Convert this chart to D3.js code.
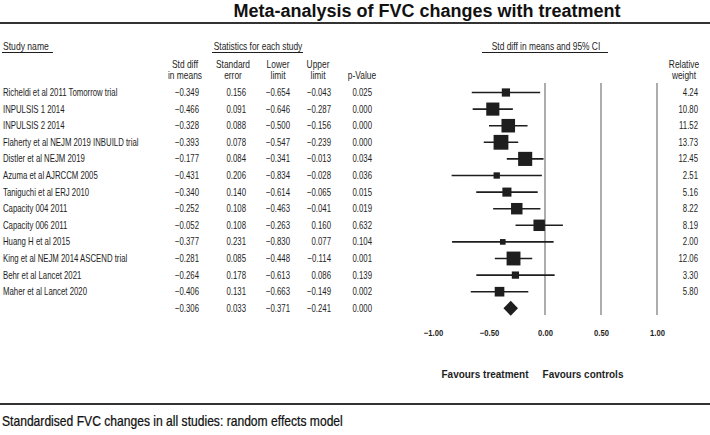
<!DOCTYPE html>
<html>
<head>
<meta charset="utf-8">
<script src="https://cdn.jsdelivr.net/npm/d3@7"></script>
<style>
  html, body { margin: 0; padding: 0; background: #fff; }
  svg { display: block; font-family: "Liberation Sans", Arial, sans-serif; }
</style>
</head>
<body>
<svg id="chart" width="710" height="435"></svg>
<script>
// ---- data ----
const studies = [
  "Richeldi et al 2011 Tomorrow trial",
  "INPULSIS 1 2014",
  "INPULSIS 2 2014",
  "Flaherty et al NEJM 2019 INBUILD trial",
  "Distler et al NEJM 2019",
  "Azuma et al AJRCCM 2005",
  "Taniguchi et al ERJ 2010",
  "Capacity 004 2011",
  "Capacity 006 2011",
  "Huang H et al 2015",
  "King et al NEJM 2014 ASCEND trial",
  "Behr et al Lancet 2021",
  "Maher et al Lancet 2020"
];
const stdDiff = [-0.349, -0.466, -0.328, -0.393, -0.177, -0.431, -0.340, -0.252, -0.052, -0.377, -0.281, -0.264, -0.406];
const stdErr  = [0.156, 0.091, 0.088, 0.078, 0.084, 0.206, 0.140, 0.108, 0.108, 0.231, 0.085, 0.178, 0.131];
const lowerLimit = [-0.654, -0.646, -0.500, -0.547, -0.341, -0.834, -0.614, -0.463, -0.263, -0.830, -0.448, -0.613, -0.663];
const upperLimit = [-0.043, -0.287, -0.156, -0.239, -0.013, -0.028, -0.065, -0.041, 0.160, 0.077, -0.114, 0.086, -0.149];
const pValue = ["0.025", "0.000", "0.000", "0.000", "0.034", "0.036", "0.015", "0.019", "0.632", "0.104", "0.001", "0.139", "0.002"];
const relWeight = [4.24, 10.80, 11.52, 13.73, 12.45, 2.51, 5.16, 8.22, 8.19, 2.00, 12.06, 3.30, 5.80];
const summaryStdDiff = -0.306, summaryStdErr = 0.033, summaryLower = -0.371, summaryUpper = -0.241, summaryP = "0.000";
const axisTicks = [-1.0, -0.5, 0.0, 0.5, 1.0];
const refLines = [0.0, 0.5, 1.0];

// ---- layout ----
const svg = d3.select("#chart");
const ink = "#1e1e1e";
const x = d3.scaleLinear().domain([-1, 1]).range([433, 657]);
const rowY = d3.scaleLinear().domain([0, 1]).range([92.5, 109.1]); // row index -> center y
const sizeScale = d3.scaleSqrt().domain([0, 13.73]).range([0, 14.8]);

const fmt3 = d3.format(".3f");
const fmt2 = d3.format(".2f");

// text helper: horizontally condensed text
function txt(xp, yp, s, anchor, opts = {}) {
  const sx = opts.sx || 0.78;
  return svg.append("text")
    .attr("transform", `translate(${xp},${yp}) scale(${sx},1)`)
    .attr("text-anchor", anchor || "start")
    .attr("font-size", opts.size || 10)
    .attr("font-weight", opts.weight || "normal")
    .attr("fill", opts.fill || ink)
    .text(s);
}

// Title
svg.append("text").attr("x", 427).attr("y", 17).attr("text-anchor", "middle")
  .attr("font-size", 18).attr("font-weight", "bold").attr("fill", "#111")
  .text("Meta-analysis of FVC changes with treatment");
svg.append("rect").attr("x", 0).attr("y", 22).attr("width", 710).attr("height", 2).attr("fill", "#333");

// bottom rule + caption
svg.append("rect").attr("x", 0).attr("y", 403).attr("width", 710).attr("height", 2).attr("fill", "#333");
txt(2, 426, "Standardised FVC changes in all studies: random effects model", "start",
    {size: 14, sx: 0.865, fill: "#111"}).attr("stroke", "#111").attr("stroke-width", 0.25);

// group headers
txt(3, 50, "Study name", "start", {sx: 0.86});
svg.append("line").attr("x1", 2).attr("x2", 53).attr("y1", 52.5).attr("y2", 52.5).attr("stroke", ink).attr("stroke-width", 1);
txt(258, 50, "Statistics for each study", "middle", {sx: 0.84});
svg.append("line").attr("x1", 212).attr("x2", 303).attr("y1", 52.5).attr("y2", 52.5).attr("stroke", ink).attr("stroke-width", 1);
txt(546, 50, "Std diff in means and 95% CI", "middle", {sx: 0.84});
svg.append("line").attr("x1", 482).attr("x2", 608).attr("y1", 52.5).attr("y2", 52.5).attr("stroke", ink).attr("stroke-width", 1);

// column headers
const colRight = [199, 246, 290, 331, 372];
const colHead = [["Std diff", "in means"], ["Standard", "error"], ["Lower", "limit"], ["Upper", "limit"], ["", "p-Value"]];
const colHeadX = [185, 233, 278, 318, 362];
colHead.forEach((h, i) => {
  txt(colHeadX[i], 68, h[0], "middle", {sx: 0.84});
  txt(colHeadX[i], 79, h[1], "middle", {sx: 0.84});
});
txt(684, 68, "Relative", "middle", {sx: 0.84});
txt(684, 79, "weight", "middle", {sx: 0.84});

// rows
const rows = studies.map((s, i) => ({
  name: s, vals: [fmt3(stdDiff[i]), fmt3(stdErr[i]), fmt3(lowerLimit[i]), fmt3(upperLimit[i]), pValue[i]],
  est: stdDiff[i], lo: lowerLimit[i], hi: upperLimit[i], w: relWeight[i], i
}));

rows.forEach(r => {
  const yc = rowY(r.i);
  txt(3, yc + 3.5, r.name, "start");
  r.vals.forEach((v, j) => txt(colRight[j], yc + 3.5, v, "end"));
  txt(698, yc + 3.5, fmt2(r.w), "end");
});
const sy = rowY(studies.length);
[fmt3(summaryStdDiff), fmt3(summaryStdErr), fmt3(summaryLower), fmt3(summaryUpper), summaryP]
  .forEach((v, j) => txt(colRight[j], sy + 3.5, v, "end"));

// reference lines
const plot = svg.append("g");
plot.selectAll("line.ref").data(refLines).join("line").attr("class", "ref")
  .attr("x1", d => x(d)).attr("x2", d => x(d))
  .attr("y1", 83).attr("y2", 315)
  .attr("stroke", "#8a8a8a").attr("stroke-width", 1.4);

// CI lines
plot.selectAll("line.ci").data(rows).join("line").attr("class", "ci")
  .attr("x1", d => x(d.lo)).attr("x2", d => x(d.hi))
  .attr("y1", d => rowY(d.i)).attr("y2", d => rowY(d.i))
  .attr("stroke", ink).attr("stroke-width", 1.6);

// squares (area proportional to weight)
plot.selectAll("rect.pt").data(rows).join("rect").attr("class", "pt")
  .attr("x", d => x(d.est) - sizeScale(d.w) / 2)
  .attr("y", d => rowY(d.i) - sizeScale(d.w) / 2)
  .attr("width", d => sizeScale(d.w)).attr("height", d => sizeScale(d.w))
  .attr("fill", ink);

// summary diamond
const dh = 7.5;
plot.append("path")
  .attr("d", `M${x(summaryLower)},${sy} L${x(summaryStdDiff)},${sy - dh} L${x(summaryUpper)},${sy} L${x(summaryStdDiff)},${sy + dh} Z`)
  .attr("fill", ink);

// axis labels
const axisG = svg.append("g").attr("transform", "translate(0,330)");
const axis = d3.axisBottom(x).tickValues(axisTicks).tickFormat(fmt2).tickSize(0).tickPadding(0);
axisG.call(axis);
axisG.select(".domain").remove();
axisG.selectAll("text").attr("font-size", 9).attr("font-weight", "bold")
  .attr("transform", "scale(0.85,1)")
  .attr("fill", ink).attr("font-family", "Liberation Sans, Arial, sans-serif");

// favours labels
txt(485, 378, "Favours treatment", "middle", {size: 10.5, weight: "bold", sx: 0.95});
txt(583, 378, "Favours controls", "middle", {size: 10.5, weight: "bold", sx: 0.95});
</script>
</body>
</html>
